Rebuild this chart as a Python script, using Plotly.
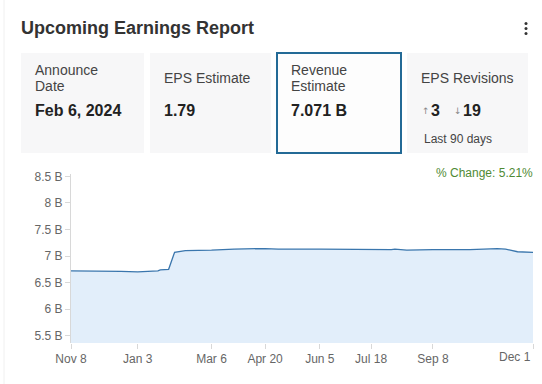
import plotly.graph_objects as go

# ---- data ----
dates = ["2022-11-08", "2022-12-01", "2022-12-20", "2023-01-03", "2023-01-15", "2023-01-20",
         "2023-01-22", "2023-01-29", "2023-02-03", "2023-02-06", "2023-02-12", "2023-03-06",
         "2023-03-25", "2023-04-20", "2023-05-01", "2023-06-05", "2023-07-18", "2023-07-28",
         "2023-08-04", "2023-08-07", "2023-08-17", "2023-09-08", "2023-10-09", "2023-11-01",
         "2023-11-08", "2023-11-18", "2023-12-01"]
revenue_b = [6.72, 6.72, 6.71, 6.70, 6.71, 6.72,
             6.74, 6.75, 7.07, 7.08, 7.10, 7.11,
             7.13, 7.14, 7.13, 7.13, 7.12, 7.12,
             7.12, 7.13, 7.11, 7.12, 7.12, 7.14,
             7.13, 7.08, 7.07]

x_tick_dates = ["2022-11-08", "2023-01-03", "2023-03-06", "2023-04-20", "2023-06-05",
                "2023-07-18", "2023-09-08", "2023-12-01"]
x_tick_labels = ["Nov 8", "Jan 3", "Mar 6", "Apr 20", "Jun 5", "Jul 18", "Sep 8", "Dec 1"]
y_tick_vals = [5.5, 6, 6.5, 7, 7.5, 8, 8.5]
y_tick_labels = ["5.5 B", "6 B", "6.5 B", "7 B", "7.5 B", "8 B", "8.5 B"]

card_labels = [["Announce", "Date"], ["EPS Estimate"], ["Revenue", "Estimate"], ["EPS Revisions"]]
card_values = ["Feb 6, 2024", "1.79", "7.071 B", None]
revisions_up = "3"
revisions_down = "19"
pct_change = "% Change: 5.21%"

# ---- layout geometry (pixels) ----
W, H = 542, 384
PL, PR, PT, PB = 71, 533, 174, 343
FONT = "Liberation Sans, Arial, sans-serif"


def px(x):
    return (x - PL) / (PR - PL)


def py(y):
    return (PB - y) / (PB - PT)


fig = go.Figure()
fig.add_trace(go.Scatter(
    x=dates, y=revenue_b, mode="lines",
    line=dict(color="#3a76ad", width=1.3),
    fill="tozeroy", fillcolor="#e2eefa",
    hoverinfo="skip", showlegend=False))

shapes = []
annotations = []

# faint left card border
shapes.append(dict(type="line", xref="paper", yref="paper",
                   x0=px(4), x1=px(4), y0=py(0), y1=py(384),
                   line=dict(color="#f0f0f0", width=1)))

# title
annotations.append(dict(xref="paper", yref="paper", x=px(19), y=py(28),
                        text="<b>Upcoming Earnings Report</b>", showarrow=False,
                        xanchor="left", yanchor="middle",
                        font=dict(family=FONT, size=18, color="#333333")))
# kebab menu dots
for dy in (23.5, 28.5, 33.5):
    shapes.append(dict(type="circle", xref="paper", yref="paper",
                       x0=px(524.5), x1=px(527.5), y0=py(dy - 1.5), y1=py(dy + 1.5),
                       fillcolor="#333333", line=dict(width=0)))

# cards
boxes = [(21, 144), (150, 271), (277, 401), (407, 528)]
for i, (x0, x1) in enumerate(boxes):
    if i == 2:
        shapes.append(dict(type="rect", xref="paper", yref="paper",
                           x0=px(x0), x1=px(x1), y0=py(153), y1=py(53),
                           fillcolor="#fdfdfd", line=dict(color="#236a96", width=2)))
    else:
        shapes.append(dict(type="rect", xref="paper", yref="paper",
                           x0=px(x0), x1=px(x1), y0=py(153), y1=py(53),
                           fillcolor="#f7f7f8", line=dict(width=0)))
    tx = x0 + 12
    lines = card_labels[i]
    if len(lines) == 2:
        ys = [70, 86]
    else:
        ys = [78]
    for t, yy in zip(lines, ys):
        annotations.append(dict(xref="paper", yref="paper", x=px(tx), y=py(yy),
                                text=t, showarrow=False, xanchor="left", yanchor="middle",
                                font=dict(family=FONT, size=14, color="#444444")))
    if card_values[i] is not None:
        annotations.append(dict(xref="paper", yref="paper", x=px(tx), y=py(110),
                                text="<b>" + card_values[i] + "</b>", showarrow=False,
                                xanchor="left", yanchor="middle",
                                font=dict(family=FONT, size=16, color="#222222")))

# EPS revisions row
rx = boxes[3][0] + 12
annotations.append(dict(xref="paper", yref="paper", x=px(rx + 1), y=py(111),
                        text="↑", showarrow=False, xanchor="left", yanchor="middle",
                        font=dict(family="DejaVu Sans, sans-serif", size=9, color="#888888")))
annotations.append(dict(xref="paper", yref="paper", x=px(rx + 10), y=py(110),
                        text="<b>" + revisions_up + "</b>", showarrow=False, xanchor="left", yanchor="middle",
                        font=dict(family=FONT, size=16, color="#222222")))
annotations.append(dict(xref="paper", yref="paper", x=px(rx + 33), y=py(111),
                        text="↓", showarrow=False, xanchor="left", yanchor="middle",
                        font=dict(family="DejaVu Sans, sans-serif", size=9, color="#888888")))
annotations.append(dict(xref="paper", yref="paper", x=px(rx + 42), y=py(110),
                        text="<b>" + revisions_down + "</b>", showarrow=False, xanchor="left", yanchor="middle",
                        font=dict(family=FONT, size=16, color="#222222")))
annotations.append(dict(xref="paper", yref="paper", x=px(rx + 3), y=py(139),
                        text="Last 90 days", showarrow=False, xanchor="left", yanchor="middle",
                        font=dict(family=FONT, size=12, color="#444444")))

# % change
annotations.append(dict(xref="paper", yref="paper", x=px(535), y=py(173),
                        text=pct_change, showarrow=False, xanchor="right", yanchor="middle",
                        font=dict(family=FONT, size=12, color="#4f8a34")))

# last x tick label is right-aligned to its tick (as in the reference)
annotations.append(dict(xref="x", yref="paper", x=x_tick_dates[-1], y=py(357),
                        text=x_tick_labels[-1], showarrow=False, xanchor="right", yanchor="middle",
                        font=dict(family=FONT, size=12, color="#666666")))
shown_tick_labels = x_tick_labels[:-1] + [""]

y0 = 5.5 - (PB - 335.7) / 53.13
y1 = 8.5 + (176.3 - PT) / 53.13

fig.update_layout(
    width=W, height=H, autosize=False,
    margin=dict(l=PL, r=W - PR, t=PT, b=H - PB, pad=0),
    paper_bgcolor="white", plot_bgcolor="white",
    shapes=shapes, annotations=annotations,
    font=dict(family=FONT, size=12, color="#666666"),
    xaxis=dict(type="date", range=["2022-11-08", "2023-12-01"],
               tickvals=x_tick_dates, ticktext=shown_tick_labels,
               showgrid=False, zeroline=False, showline=False,
               ticks="outside", ticklen=5, tickcolor="#d8d8d8",
               tickfont=dict(family=FONT, size=12, color="#666666")),
    yaxis=dict(range=[y0, y1], tickvals=y_tick_vals, ticktext=y_tick_labels,
               showgrid=False, zeroline=False, showline=True, linecolor="#d8d8d8",
               ticks="outside", ticklen=5, tickcolor="#d8d8d8",
               tickfont=dict(family=FONT, size=12, color="#666666")),
)

fig.write_html("out.html", config={"displayModeBar": False},
               post_script="document.body.style.margin='0';document.body.style.overflow='hidden';")
